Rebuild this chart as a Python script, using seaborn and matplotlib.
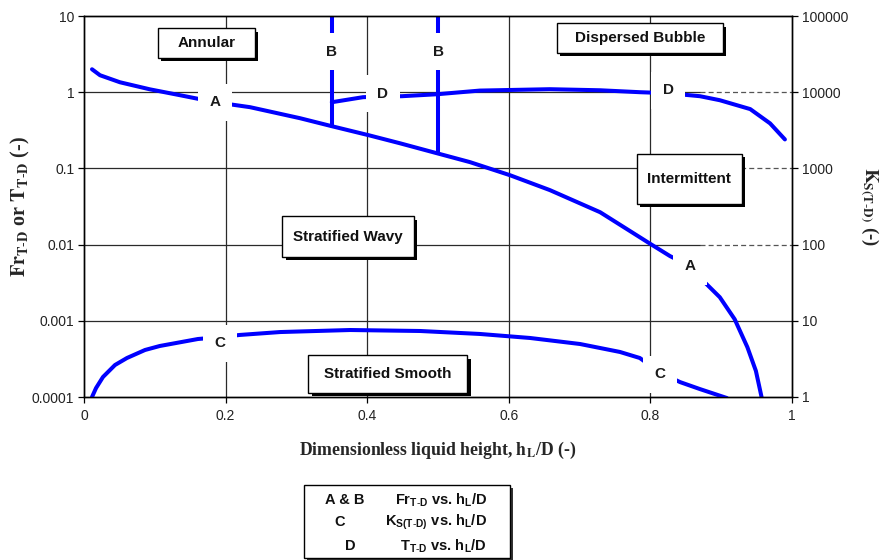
import matplotlib
matplotlib.use("Agg")
import matplotlib.pyplot as plt
import matplotlib.transforms as mtransforms
from matplotlib.patches import Rectangle
from matplotlib.ticker import NullLocator, FixedLocator
import numpy as np
import pandas as pd
import seaborn as sns

# ---- curve data (dimensionless liquid height hL/D) ----
# Curve A: Fr_T-D vs hL/D
a_h = [0.0113, 0.0226, 0.0508, 0.0932, 0.1356, 0.185, 0.2345, 0.305, 0.350, 0.4025,
       0.446, 0.4986, 0.545, 0.6017, 0.658, 0.729, 0.785, 0.8008, 0.8277, 0.856,
       0.877, 0.898, 0.919, 0.937, 0.949, 0.957]
a_fr = [2.0, 1.67, 1.35, 1.09, 0.913, 0.74, 0.636, 0.456, 0.358, 0.272,
        0.214, 0.158, 0.121, 0.0814, 0.0519, 0.0266, 0.0125, 0.0101, 0.00707, 0.0052,
        0.00318, 0.00204, 0.00105, 0.00045, 0.00022, 0.0001]

# Curve B: vertical Fr_T-D boundaries at hL/D = 0.35 and 0.5
b_h = [0.35, 0.50]
b_top = 10.0
b_bottom = [0.358, 0.158]

# Curve C: K_S(T-D) vs hL/D (right axis)
c_h = [0.0113, 0.017, 0.0268, 0.0438, 0.0607, 0.0862, 0.107, 0.161, 0.192, 0.220,
       0.277, 0.376, 0.4746, 0.559, 0.630, 0.7006, 0.757, 0.785, 0.8136, 0.8418,
       0.870, 0.908]
c_k = [1.0, 1.31, 1.83, 2.63, 3.25, 4.14, 4.67, 5.77, 6.1, 6.52,
       7.12, 7.57, 7.35, 6.72, 5.95, 4.96, 3.9, 3.25, 2.1, 1.57,
       1.27, 0.97]

# Curve D: T_T-D vs hL/D
d_h = [0.350, 0.394, 0.422, 0.449, 0.4986, 0.559, 0.658, 0.729, 0.785, 0.825,
       0.870, 0.898, 0.941, 0.969, 0.990]
d_t = [0.739, 0.86, 0.88, 0.886, 0.94, 1.05, 1.095, 1.06, 1.0, 0.97,
       0.886, 0.785, 0.60, 0.39, 0.24]

x_ticks = [0, 0.2, 0.4, 0.6, 0.8, 1.0]
x_tick_labels = ["0", "0.2", "0.4", "0.6", "0.8", "1"]
left_ticks = [1e-4, 1e-3, 1e-2, 1e-1, 1, 10]
left_tick_labels = ["0.0001", "0.001", "0.01", "0.1", "1", "10"]
right_ticks = [1, 10, 100, 1000, 10000, 100000]
right_tick_labels = ["1", "10", "100", "1000", "10000", "100000"]

regions = ["Annular", "Dispersed Bubble", "Intermittent", "Stratified Wavy", "Stratified Smooth"]

legend_keys = ["A & B", "C", "D"]
legend_desc = [r"$\mathbf{Fr_{T\text{-}D}}$ vs. $\mathbf{h_L}$/D",
               r"$\mathbf{K_{S(T\text{-}D)}}$ vs. $\mathbf{h_L}$/D",
               r"$\mathbf{T_{T\text{-}D}}$ vs. $\mathbf{h_L}$/D"]

# ---- style ----
sns.set_theme(style="white")
plt.rcParams["font.family"] = ["Liberation Sans", "DejaVu Sans"]
plt.rcParams["mathtext.fontset"] = "custom"
plt.rcParams["mathtext.rm"] = "Liberation Sans"
plt.rcParams["mathtext.bf"] = "Liberation Sans:bold"
plt.rcParams["mathtext.it"] = "Liberation Sans:italic"

BLUE = "#0000ff"
GRID = "#2a2a2a"
LW = 2.9

fig = plt.figure(figsize=(8.82, 5.6), dpi=100)
W, H = 882, 560
ax = fig.add_axes([84 / W, 1 - 397 / H, 708 / W, 381 / H])
ax2 = ax.twinx()

# axes setup
ax.set_xlim(0, 1)
ax.set_yscale("log")
ax.set_ylim(1e-4, 10)
ax.xaxis.set_major_locator(FixedLocator(x_ticks))
ax.set_xticklabels(x_tick_labels)
ax.yaxis.set_major_locator(FixedLocator(left_ticks))
ax.yaxis.set_minor_locator(NullLocator())
ax.set_yticklabels(left_tick_labels)

ax2.set_yscale("log")
ax2.set_ylim(1, 1e5)
ax2.yaxis.set_major_locator(FixedLocator(right_ticks))
ax2.yaxis.set_minor_locator(NullLocator())
ax2.set_yticklabels(right_tick_labels)

for a in (ax, ax2):
    for s in a.spines.values():
        s.set_color("black")
        s.set_linewidth(1.0)
    a.tick_params(axis="both", which="major", length=4, width=0.9, color="black",
                  labelsize=10, labelcolor="#222222", pad=3)
ax.tick_params(axis="x", bottom=True, pad=5)
ax.tick_params(axis="y", left=True)
ax2.tick_params(axis="y", right=True)

# grid lines
for xv in x_ticks[1:-1]:
    ax.axvline(xv, color=GRID, lw=0.9, zorder=0.5)
for yv in left_ticks[1:-1]:
    if yv in (1e-2, 1e-1, 1):
        ax.axhline(yv, xmin=0, xmax=0.87, color=GRID, lw=0.9, zorder=0.5)
        ax.axhline(yv, xmin=0.87, xmax=1, color="#555555", lw=0.9, ls=(0, (4, 2.5)), zorder=0.5)
    else:
        ax.axhline(yv, color=GRID, lw=0.9, zorder=0.5)

# curves
df_a = pd.DataFrame({"h": a_h, "v": a_fr})
df_d = pd.DataFrame({"h": d_h, "v": d_t})
df_c = pd.DataFrame({"h": c_h, "v": c_k})
sns.lineplot(data=df_a, x="h", y="v", ax=ax, color=BLUE, lw=LW, estimator=None, sort=False)
sns.lineplot(data=df_d, x="h", y="v", ax=ax, color=BLUE, lw=LW, estimator=None, sort=False)
for xb, yb in zip(b_h, b_bottom):
    df_b = pd.DataFrame({"h": [xb, xb], "v": [b_top, yb]})
    sns.lineplot(data=df_b, x="h", y="v", ax=ax, color=BLUE, lw=LW, estimator=None, sort=False)
sns.lineplot(data=df_c, x="h", y="v", ax=ax2, color=BLUE, lw=LW, estimator=None, sort=False)
ax.set_xlim(0, 1)
ax.set_ylim(1e-4, 10)
ax2.set_ylim(1, 1e5)

# curve tags with white backgrounds breaking the lines
tag_box = dict(boxstyle="square,pad=0.75", fc="white", ec="none")
tags_left = [("A", a_h[5], a_fr[5]), ("A", a_h[19], a_fr[19]),
             ("B", b_h[0], 3.4), ("B", b_h[1], 3.4),
             ("D", d_h[2], 0.95), ("D", d_h[9], 1.06)]
for s, xv, yv in tags_left:
    ax2.text(xv, yv, s, transform=ax.transData, ha="center", va="center",
             fontsize=11, fontweight="bold", color="#1a1a1a", bbox=tag_box, zorder=5)
for s, xv, yv in [("C", c_h[8], 5.1), ("C", c_h[18], 2.0)]:
    ax2.text(xv, yv, s, ha="center", va="center", fontsize=11, fontweight="bold",
             color="#1a1a1a", bbox=tag_box, zorder=5)

# flow regime boxes with drop shadows (axes-fraction extents)
region_boxes = {
    "Annular": (0.1045, 0.2415, 0.890, 0.9685),
    "Dispersed Bubble": (0.668, 0.9025, 0.903, 0.9816),
    "Intermittent": (0.781, 0.929, 0.5066, 0.638),
    "Stratified Wavy": (0.2797, 0.466, 0.3675, 0.475),
    "Stratified Smooth": (0.3164, 0.541, 0.0105, 0.110),
}
shadow_tr = mtransforms.offset_copy(ax2.transAxes, fig=fig, x=3.5, y=-3.5, units="dots")
for name in regions:
    x0, x1, y0, y1 = region_boxes[name]
    ax2.add_patch(Rectangle((x0, y0), x1 - x0, y1 - y0, transform=shadow_tr,
                            fc="black", ec="none", zorder=6, clip_on=False))
    ax2.add_patch(Rectangle((x0, y0), x1 - x0, y1 - y0, transform=ax2.transAxes,
                            fc="white", ec="black", lw=1.0, zorder=7, clip_on=False))
    ax2.text((x0 + x1) / 2, (y0 + y1) / 2, name, transform=ax2.transAxes,
             ha="center", va="center", fontsize=11, fontweight="bold",
             color="#111111", zorder=8)

# axis titles
ax.set_xlabel(r"Dimensionless liquid height, $\mathbf{h_L}$/D (-)", fontsize=12.8,
              fontweight="bold", family="Liberation Serif", labelpad=12,
              math_fontfamily="stix")
ax.set_ylabel(r"$\mathbf{Fr_{T\text{-}D}}$ or $\mathbf{T_{T\text{-}D}}$ (-)", fontsize=14.5,
              fontweight="bold", family="Liberation Serif",
              math_fontfamily="stix", va="center")
ax.yaxis.set_label_coords(-0.090, 0.5)
ax2.set_ylabel(r"$\mathbf{K_{S(T\text{-}D)}}$ (-)", fontsize=13.5, fontweight="bold",
               family="Liberation Serif", math_fontfamily="stix",
               rotation=270, va="center")
ax2.yaxis.set_label_coords(1.109, 0.5)

# key box below the chart
lx0, lx1 = 304 / W, 510 / W
ly0, ly1 = 1 - 558 / H, 1 - 485 / H
fshadow = mtransforms.offset_copy(fig.transFigure, fig=fig, x=3, y=-3, units="dots")
fig.patches.append(Rectangle((lx0, ly0), lx1 - lx0, ly1 - ly0, transform=fshadow,
                             fc="#333333", ec="none", zorder=1))
fig.patches.append(Rectangle((lx0, ly0), lx1 - lx0, ly1 - ly0, transform=fig.transFigure,
                             fc="white", ec="black", lw=1.0, zorder=2))
key_x = [345, 340, 350]
row_y = [500, 522, 546]
for k, d, kx, ry in zip(legend_keys, legend_desc, key_x, row_y):
    fig.text(kx / W, 1 - ry / H, k, ha="center", va="center", fontsize=10.5,
             fontweight="bold", color="#111111", zorder=3)
    fig.text(487 / W, 1 - ry / H, d, ha="right", va="center", fontsize=10.5,
             fontweight="bold", color="#111111", zorder=3)

fig.savefig("out.png", dpi=100)
